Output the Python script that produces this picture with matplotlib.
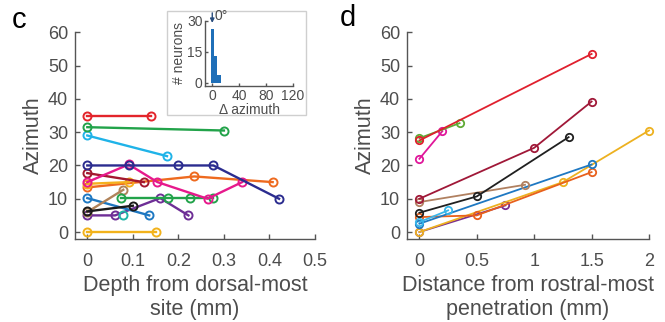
import matplotlib
matplotlib.use("Agg")
import matplotlib.pyplot as plt
from matplotlib.patches import Rectangle

plt.rcParams["font.family"] = ["Liberation Sans", "DejaVu Sans"]

W, H = 665, 322
GRAY = "#555555"
TXT = "#4d4d4d"

# ---- panel c: depth from dorsal-most site ----
c_red_x, c_red_y = [0, 0.14], [35, 35]
c_green_x, c_green_y = [0, 0.30], [31.5, 30.5]
c_cyan_x, c_cyan_y = [0, 0.175], [29, 22.8]
c_navy_x, c_navy_y = [0, 0.091, 0.2, 0.277, 0.421], [20, 20, 20, 20, 10]
c_darkred_x, c_darkred_y = [0, 0.124], [17.7, 15]
c_magenta_x, c_magenta_y = [0, 0.091, 0.154, 0.264, 0.34], [15, 20.3, 15, 10, 15]
c_orange_x, c_orange_y = [0, 0.235, 0.407], [13.4, 16.7, 15]
c_yellow_x, c_yellow_y = [0, 0.092], [14.5, 15]
c_blue_x, c_blue_y = [0, 0.136], [10.2, 5]
c_green2_x, c_green2_y = [0.075, 0.177, 0.225, 0.277], [10.2, 10.2, 10.2, 10.2]
c_purple_x, c_purple_y = [0, 0.061, 0.16, 0.222], [5, 5, 10.2, 5]
c_black_x, c_black_y = [0, 0.1], [6.2, 7.9]
c_tan_x, c_tan_y = [0, 0.079], [6, 12.7]
c_teal_x, c_teal_y = [0.079], [5]
c_gold_x, c_gold_y = [0, 0.15], [0, 0]

# ---- inset histogram ----
hist_centers = [0, 5, 10]
hist_counts = [26, 13, 4]

# ---- panel d: distance from rostral-most penetration ----
d_red_x, d_red_y = [0, 1.5], [27.5, 53.5]
d_green_x, d_green_y = [0, 0.35], [28.2, 32.7]
d_magenta_x, d_magenta_y = [0, 0.2], [22, 30.3]
d_darkred_x, d_darkred_y = [0, 1.0, 1.5], [10, 25.3, 39.2]
d_black_x, d_black_y = [0, 0.5, 1.3], [5.8, 10.7, 28.5]
d_tan_x, d_tan_y = [0, 0.92], [9, 14.2]
d_cyan_x, d_cyan_y = [0, 0.25], [3, 6.5]
d_orange_x, d_orange_y = [0, 0.5, 1.5], [4.5, 5, 18]
d_blue_x, d_blue_y = [0, 1.5], [2.5, 20.3]
d_purple_x, d_purple_y = [0, 0.75], [0, 8]
d_yellow_x, d_yellow_y = [0, 1.25, 2.0], [0, 15, 30.5]

c_series = [
    (c_gold_x, c_gold_y, "#F2B21B"),
    (c_purple_x, c_purple_y, "#6E2E96"),
    (c_teal_x, c_teal_y, "#1FB5A8"),
    (c_blue_x, c_blue_y, "#1E78C2"),
    (c_tan_x, c_tan_y, "#B0835A"),
    (c_black_x, c_black_y, "#1a1a1a"),
    (c_green2_x, c_green2_y, "#22A34A"),
    (c_orange_x, c_orange_y, "#EE6A1F"),
    (c_yellow_x, c_yellow_y, "#F5B01E"),
    (c_darkred_x, c_darkred_y, "#A3182F"),
    (c_magenta_x, c_magenta_y, "#E6198C"),
    (c_navy_x, c_navy_y, "#2B2C8F"),
    (c_cyan_x, c_cyan_y, "#1FB3E8"),
    (c_green_x, c_green_y, "#22A34A"),
    (c_red_x, c_red_y, "#E3242B"),
]

d_series = [
    (d_purple_x, d_purple_y, "#7B2D8E"),
    (d_yellow_x, d_yellow_y, "#EDB120"),
    (d_orange_x, d_orange_y, "#E8601C"),
    (d_blue_x, d_blue_y, "#1E78C2"),
    (d_cyan_x, d_cyan_y, "#38B6EA"),
    (d_tan_x, d_tan_y, "#B08060"),
    (d_black_x, d_black_y, "#202020"),
    (d_darkred_x, d_darkred_y, "#A01838"),
    (d_magenta_x, d_magenta_y, "#E0179A"),
    (d_green_x, d_green_y, "#5FAA35"),
    (d_red_x, d_red_y, "#E0202E"),
]


def px_box(left, top, right, bottom):
    # pixel box -> figure fraction [l, b, w, h]
    return [left / W, 1 - bottom / H, (right - left) / W, (bottom - top) / H]


def style_axes(ax, fs=13, tlen=3.5):
    for s in ("top", "right"):
        ax.spines[s].set_visible(False)
    for s in ("left", "bottom"):
        ax.spines[s].set_color(GRAY)
        ax.spines[s].set_linewidth(1.0)
    ax.tick_params(direction="in", length=tlen, width=1.0, color=GRAY,
                   labelcolor=TXT, labelsize=fs)


fig = plt.figure(figsize=(W / 100, H / 100), dpi=100)

# panel c
ax_c = fig.add_axes(px_box(75, 32.3, 315, 238.7))
for x, y, col in c_series:
    ax_c.plot(x, y, "-o", color=col, lw=1.7, ms=5.8, mfc="none", mew=1.4,
              clip_on=False)
ax_c.set_xlim(-0.027, 0.5)
ax_c.set_ylim(-2, 60)
ax_c.set_xticks([0, 0.1, 0.2, 0.3, 0.4, 0.5])
ax_c.set_xticklabels(["0", "0.1", "0.2", "0.3", "0.4", "0.5"])
ax_c.set_yticks([0, 10, 20, 30, 40, 50, 60])
style_axes(ax_c)
ax_c.tick_params(axis="x", pad=10)
ax_c.tick_params(axis="y", pad=5)
ax_c.set_xlabel("Depth from dorsal-most\nsite (mm)", fontsize=15.5, color=TXT,
                labelpad=4, linespacing=1.2)
ax_c.set_ylabel("Azimuth", fontsize=15.5, color=TXT, labelpad=3)
fig.text(12 / W, 1 - 20 / H, "c", fontsize=21, color="black", va="center",
         ha="left")

# inset box and histogram
fig.patches.append(Rectangle((167 / W, 1 - 115 / H), (306 - 167) / W,
                             (115 - 11) / H, transform=fig.transFigure,
                             facecolor="white", edgecolor="#cfcfcf", lw=1.0,
                             zorder=3))
ax_in = fig.add_axes(px_box(205.2, 20.5, 293, 86))
ax_in.set_zorder(4)
ax_in.patch.set_alpha(0)
ax_in.bar(hist_centers, hist_counts, width=5, color="#1F6FB8", edgecolor="none")
ax_in.set_xlim(-10.5, 120)
ax_in.set_ylim(-1.5, 30)
ax_in.set_xticks([0, 40, 80, 120])
ax_in.set_yticks([0, 15, 30])
style_axes(ax_in, fs=10, tlen=2.5)
ax_in.tick_params(axis="x", pad=2)
ax_in.tick_params(axis="y", pad=2)
ax_in.set_xlabel("\u0394 azimuth", fontsize=10, color=TXT, labelpad=0)
ax_in.set_ylabel("# neurons", fontsize=10, color=TXT, labelpad=1)
ax_in.annotate("", xy=(0, 27.5), xytext=(0, 35), annotation_clip=False,
               arrowprops=dict(arrowstyle="-|>", color="#2a4e7e", lw=1.0,
                               mutation_scale=6))
ax_in.text(4, 32, "0\u00b0", fontsize=10, color=TXT, va="center", ha="left",
           clip_on=False)

# panel d
ax_d = fig.add_axes(px_box(407, 32.3, 649, 238.7))
for x, y, col in d_series:
    ax_d.plot(x, y, "-o", color=col, lw=1.3, ms=5.3, mfc="none", mew=1.3,
              clip_on=False)
ax_d.set_xlim(-0.108, 2.0)
ax_d.set_ylim(-2, 60)
ax_d.set_xticks([0, 0.5, 1, 1.5, 2])
ax_d.set_xticklabels(["0", "0.5", "1", "1.5", "2"])
ax_d.set_yticks([0, 10, 20, 30, 40, 50, 60])
style_axes(ax_d)
ax_d.tick_params(axis="x", pad=10)
ax_d.tick_params(axis="y", pad=5)
ax_d.set_xlabel("Distance from rostral-most\npenetration (mm)", fontsize=15.5,
                color=TXT, labelpad=4, linespacing=1.2)
ax_d.set_ylabel("Azimuth", fontsize=15.5, color=TXT, labelpad=3)
fig.text(340 / W, 1 - 18 / H, "d", fontsize=21, color="black", va="center",
         ha="left")

fig.savefig("out.png", dpi=100)
